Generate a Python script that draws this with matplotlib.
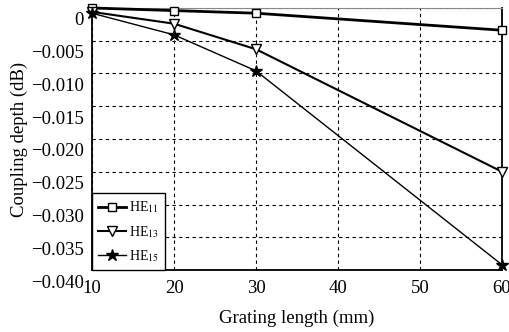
import numpy as np
import matplotlib
matplotlib.use("Agg")
import matplotlib.pyplot as plt
import matplotlib.transforms as mtransforms

plt.rcParams['font.family'] = ['Liberation Serif', 'DejaVu Serif']
plt.rcParams['mathtext.fontset'] = 'stix'

# grating length (mm)
length = [10, 20, 30, 60]
# coupling depth (dB)
he11 = [0.0, -0.0004, -0.0008, -0.0034]
he13 = [-0.0006, -0.0024, -0.0063, -0.0250]
he15 = [-0.0008, -0.0041, -0.0096, -0.0392]

yticks = [0, -0.005, -0.010, -0.015, -0.020, -0.025, -0.030, -0.035, -0.040]
ytick_labels = ['0', '\u22120.005', '\u22120.010', '\u22120.015', '\u22120.020',
                '\u22120.025', '\u22120.030', '\u22120.035', '\u22120.040']
xticks = [10, 20, 30, 40, 50, 60]

fig = plt.figure(figsize=(5.1, 3.32), dpi=100)
ax = fig.add_axes([0.1804, 0.1867, 0.8039, 0.7893])

ax.plot(length, he11, color='black', lw=2.0, marker='s', ms=6,
        mfc='white', mec='black', mew=1.0, label=r'HE$_{11}$', zorder=5,
        clip_on=False)
ax.plot(length, he13, color='black', lw=1.5, marker='v', ms=7.5,
        mfc='white', mec='black', mew=1.0, label=r'HE$_{13}$', zorder=5,
        clip_on=False)
ax.plot(length, he15, color='black', lw=1.0, marker='*', ms=9,
        mfc='black', mec='black', label=r'HE$_{15}$', zorder=5,
        clip_on=False)

ax.set_xlim(10, 60)
ax.set_ylim(-0.040, 0)
ax.set_xticks(xticks)
ax.set_yticks(yticks)
ax.set_yticklabels(ytick_labels)
ax.grid(True, color='black', linestyle=(0, (3, 3)), linewidth=0.8)
ax.tick_params(axis='both', length=0, labelsize=13.5)
ax.tick_params(axis='y', pad=6)
ax.tick_params(axis='x', pad=7)

# tick labels in the source sit a bit below their gridlines
off = mtransforms.ScaledTranslation(0, -0.11, fig.dpi_scale_trans)
for lab in ax.get_yticklabels():
    lab.set_transform(lab.get_transform() + off)

for s in ['left', 'bottom', 'right']:
    ax.spines[s].set_linewidth(1.3)
    ax.spines[s].set_color('black')
ax.spines['top'].set_linewidth(0.8)
ax.spines['top'].set_color('#888888')

ax.set_xlabel('Grating length (mm)', fontsize=13.5, labelpad=9)
ax.set_ylabel('Coupling depth (dB)', fontsize=13.5, labelpad=2)

leg = ax.legend(loc='lower left', fontsize=10, frameon=True, fancybox=False,
                edgecolor='black', borderaxespad=0, handlelength=2.0,
                handletextpad=0.2, labelspacing=0.6, borderpad=0.45,
                framealpha=1)
leg.get_frame().set_linewidth(1.0)
leg.set_zorder(10)

fig.savefig('out.png', dpi=100)
